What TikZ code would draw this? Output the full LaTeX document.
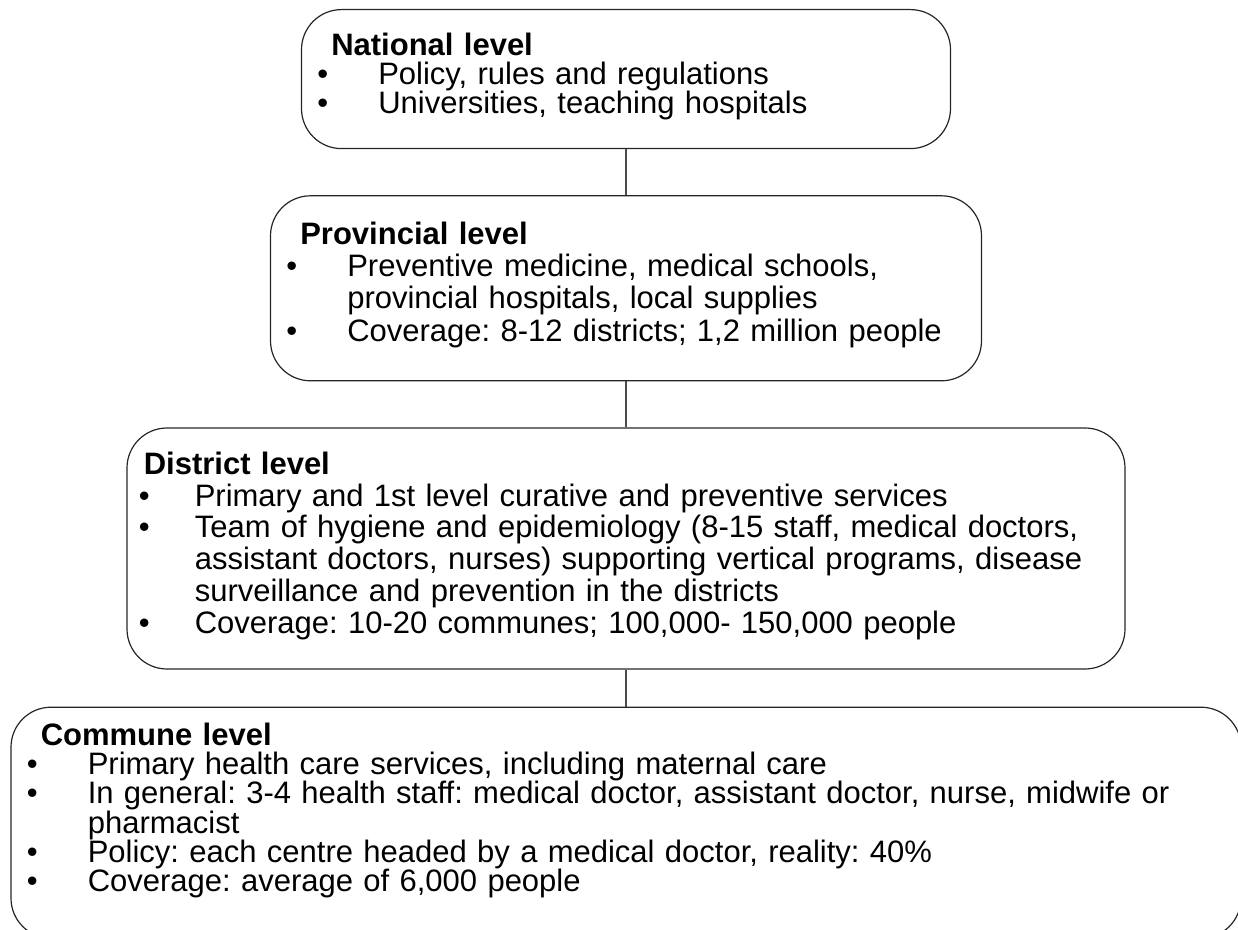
\documentclass[tikz,border=0pt]{standalone}
\usepackage{fontspec}
\setmainfont{Liberation Sans}
\usetikzlibrary{positioning}
\frenchspacing
\newlength\bulind
\newlength\txtind
\setlength\bulind{8pt}
\setlength\txtind{38.5pt}
% fixed baseline distance, no extra lineskip
\newcommand\tightlines[1]{\fontsize{15.5}{#1}\selectfont
  \lineskiplimit=-20pt\relax\lineskip=0pt\relax\parskip=0pt\relax}
% one bullet line, wrapped lines hang under the text
\newcommand\itm[1]{\par\hangindent=\txtind\hangafter=1\noindent
  \hbox to\txtind{\hspace{\bulind}\textbullet\hfil}#1}
\newcommand\ttl[2][15pt]{\noindent\hspace*{#1}\textbf{#2}}

\begin{document}
\begin{tikzpicture}[x=0.5pt,y=-0.5pt,
  level/.style={draw=black!85,line width=0.6pt,rounded corners=20pt,inner sep=0pt},
  body/.style={anchor=north west,inner sep=0pt,align=left,text width=600pt,
    font={\tightlines{#1}}},
  body/.default=14.5pt,
  link/.style={draw=black!70,line width=0.6pt}]
\clip (0,0) rectangle (1238,930);

\node[level,anchor=north,minimum width=324.5pt,minimum height=69.5pt] (national) at (626,9) {};
\node[level,below=23pt of national,minimum width=355.5pt,minimum height=92.5pt] (provincial) {};
\node[level,below=23pt of provincial,minimum width=499pt,minimum height=120.5pt] (district) {};
\node[level,below=18.5pt of district,minimum width=615pt,minimum height=115.5pt] (commune) {};

\draw[link] (national) -- (provincial);
\draw[link] (provincial) -- (district);
\draw[link] (district) -- (commune);

\node[body] (nationaltext) at ([yshift=-12pt]national.north west) {%
  \ttl{National level}
  \itm{Policy, rules and regulations}
  \itm{Universities, teaching hospitals}};
\node[body=16.2pt] (provincialtext) at ([yshift=-13pt]provincial.north west) {%
  \ttl{Provincial level}
  \itm{Preventive medicine, medical schools,\newline provincial hospitals, local supplies}
  \itm{Coverage: 8-12 districts; 1,2 million people}};
\node[body=15.9pt] (districttext) at ([yshift=-12pt]district.north west) {%
  \setlength\bulind{6pt}\setlength\txtind{34pt}%
  \ttl[8.5pt]{District level}
  \itm{Primary and 1st level curative and preventive services}
  \itm{Team of hygiene and epidemiology (8-15 staff, medical doctors,\newline
    assistant doctors, nurses) supporting vertical programs, disease\newline
    surveillance and prevention in the districts}
  \itm{Coverage: 10-20 communes; 100,000- 150,000 people}};
\node[body=14.6pt] (communetext) at ([yshift=-8pt]commune.north west) {%
  \ttl{Commune level}
  \itm{Primary health care services, including maternal care}
  \itm{In general: 3-4 health staff: medical doctor, assistant doctor, nurse, midwife or\newline
    pharmacist}
  \itm{Policy: each centre headed by a medical doctor, reality: 40\%}
  \itm{Coverage: average of 6,000 people}};
\end{tikzpicture}
\end{document}
